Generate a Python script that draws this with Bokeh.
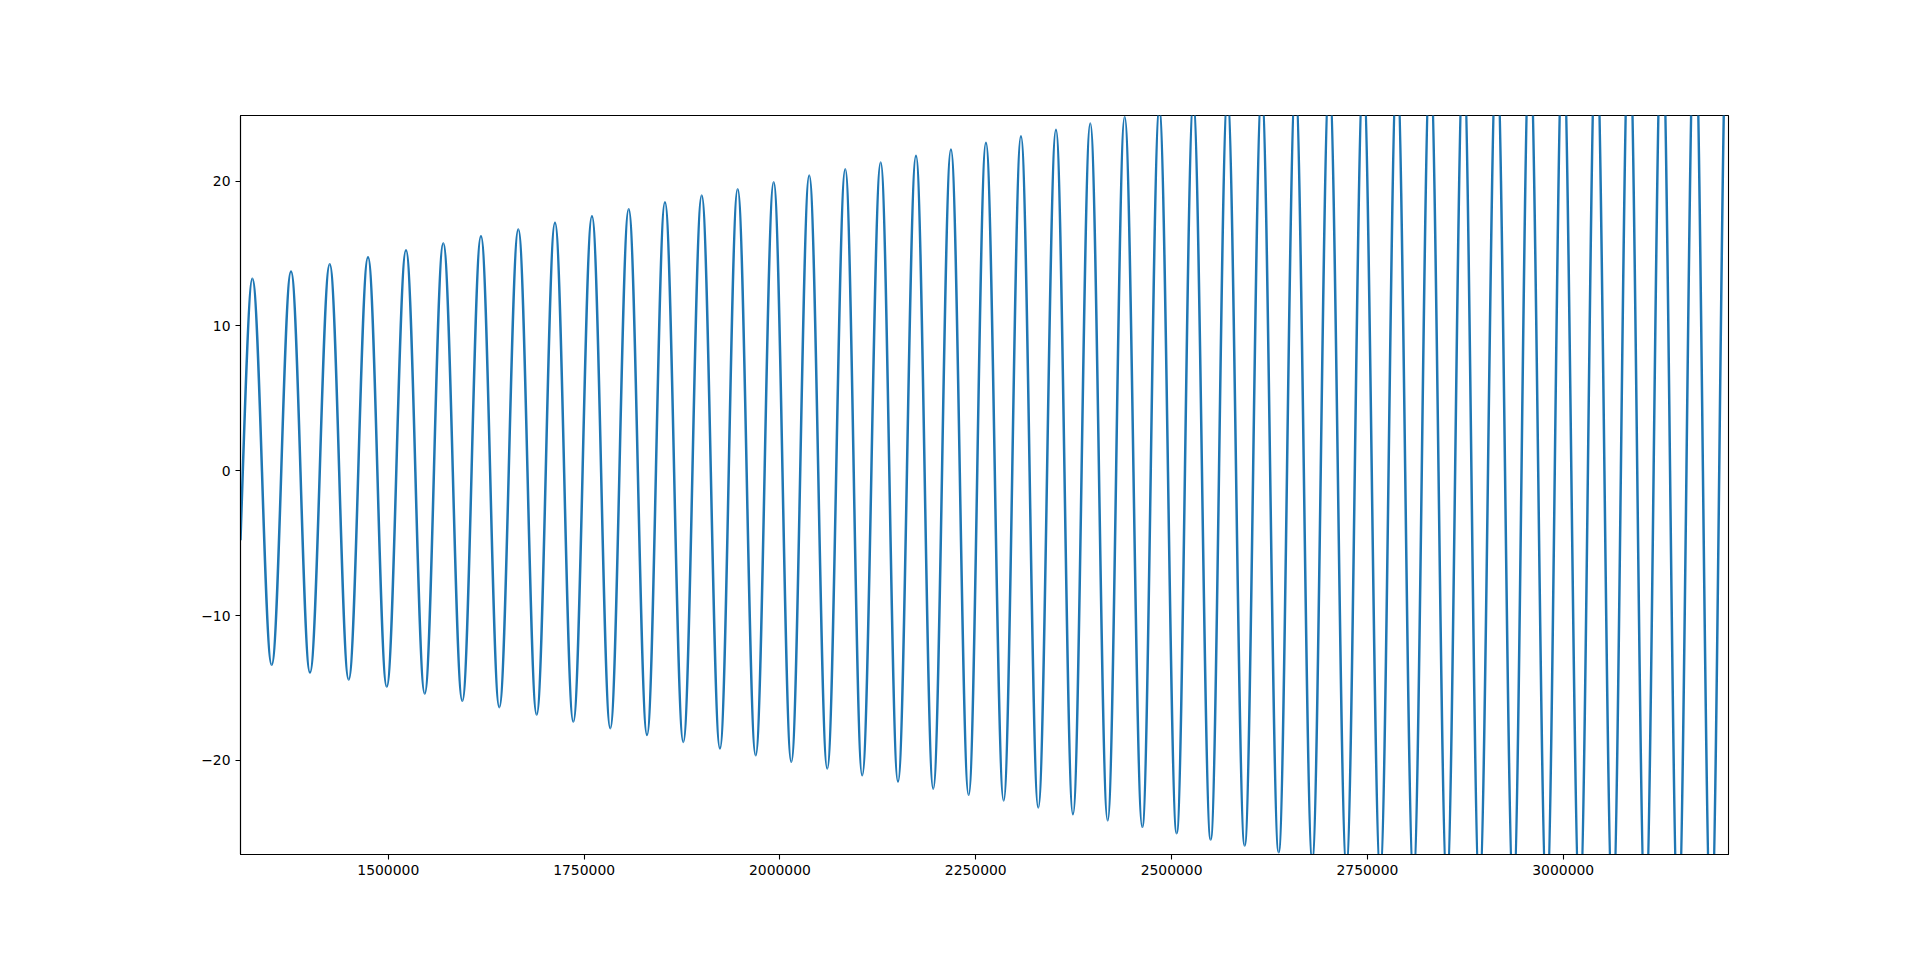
import numpy as np
from bokeh.plotting import figure
from bokeh.models import Range1d, FixedTicker
from bokeh.embed import file_html
from bokeh.resources import INLINE

# ---- data ----
start_x = [1311300]
start_y = [-4.8]

peak_x = [1326400, 1375800, 1425200, 1474100, 1522600, 1570200, 1618300, 1666000,
          1712800, 1760000, 1806900, 1853200, 1900100, 1946000, 1992000, 2037400,
          2083400, 2128600, 2173700, 2218300, 2263000, 2307700, 2352400, 2396200,
          2440100, 2484300, 2527700, 2571300, 2615000, 2658100, 2701300, 2744700,
          2787700, 2830100, 2872600, 2915000, 2957200, 2999600, 3042000, 3084100,
          3126000, 3167900, 3209600]
peak_y = [13.26, 13.76, 14.27, 14.75, 15.23, 15.72, 16.20, 16.66,
          17.13, 17.58, 18.07, 18.55, 19.01, 19.45, 19.93, 20.39,
          20.83, 21.29, 21.76, 22.19, 22.65, 23.11, 23.56, 23.99,
          24.44, 24.89, 25.33, 25.77, 26.20, 26.63, 27.06, 27.48,
          27.90, 28.32, 28.73, 29.14, 29.55, 29.95, 30.35, 30.75,
          31.14, 31.53, 31.92]

trough_x = [1351100, 1400000, 1449400, 1498000, 1546500, 1594500, 1641700, 1689400,
            1736200, 1783400, 1830300, 1876600, 1923400, 1969000, 2014500, 2060400,
            2105000, 2150700, 2195700, 2240900, 2285600, 2329800, 2374100, 2418400,
            2462600, 2506500, 2549900, 2593300, 2636700, 2679600, 2723200, 2766400,
            2808800, 2851500, 2893000, 2936400, 2978900, 3021100, 3063200, 3104900,
            3146800, 3188800]
trough_y = [-13.41, -13.94, -14.42, -14.91, -15.39, -15.89, -16.34, -16.84,
            -17.33, -17.79, -18.25, -18.73, -19.19, -19.65, -20.11, -20.57,
            -21.04, -21.47, -21.96, -22.39, -22.78, -23.27, -23.73, -24.15,
            -24.60, -25.04, -25.48, -25.89, -26.36, -26.80, -27.20, -27.60,
            -28.00, -28.40, -28.80, -29.20, -29.60, -30.00, -30.40, -30.80,
            -31.20, -31.60]

x_ticks = [1500000, 1750000, 2000000, 2250000, 2500000, 2750000, 3000000]
y_ticks = [-20, -10, 0, 10, 20]
x_range = (1311300, 3211000)
y_range = (-26.51, 24.54)

# ---- build ordered extrema (start, peak, trough, peak, ...) ----
ext_x = [start_x[0]]
ext_y = [start_y[0]]
for i in range(len(peak_x)):
    ext_x.append(peak_x[i]); ext_y.append(peak_y[i])
    if i < len(trough_x):
        ext_x.append(trough_x[i]); ext_y.append(trough_y[i])
ext_x = np.array(ext_x, dtype=float)
ext_y = np.array(ext_y, dtype=float)

x0 = ext_x[:-1]; x1 = ext_x[1:]
y0 = ext_y[:-1]; y1 = ext_y[1:]
dx = x1 - x0
k = 0.3634  # bezier factor approximating a half sine between extrema
cx0 = x0 + k * dx
cy0 = y0.copy()
cx1 = x1 - k * dx
cy1 = y1.copy()
# first segment starts mid-rise, not at an extremum
cx0[0] = x0[0] + dx[0] / 3.0
cy0[0] = y0[0] + 0.45 * (y1[0] - y0[0])
cx1[0] = x1[0] - 0.30 * dx[0]

p = figure(output_backend="svg", toolbar_location=None,
           frame_width=1488, frame_height=739,
           min_border_left=240, min_border_right=184,
           min_border_top=115, min_border_bottom=98,
           x_range=Range1d(*x_range), y_range=Range1d(*y_range),
           background_fill_color="white", border_fill_color="white")

p.bezier(x0=x0, y0=y0, x1=x1, y1=y1, cx0=cx0, cy0=cy0, cx1=cx1, cy1=cy1,
         line_color="#1f77b4", line_width=2.5)

p.grid.visible = False
p.outline_line_color = "black"
p.outline_line_width = 1.1

for ax in (p.xaxis[0], p.yaxis[0]):
    ax.axis_line_color = "black"
    ax.axis_line_width = 1.1
    ax.major_tick_line_color = "black"
    ax.major_tick_line_width = 1.1
    ax.major_tick_out = 5
    ax.major_tick_in = 0
    ax.minor_tick_line_color = None
    ax.major_label_text_font = "DejaVu Sans"
    ax.major_label_text_font_size = "13.9px"
    ax.major_label_text_color = "black"
    ax.major_label_standoff = 5

p.xaxis[0].ticker = FixedTicker(ticks=x_ticks)
p.xaxis[0].major_label_overrides = {t: str(t) for t in x_ticks}
p.yaxis[0].ticker = FixedTicker(ticks=y_ticks)
p.yaxis[0].major_label_overrides = {t: (str(t).replace("-", "\u2212")) for t in y_ticks}

open("out.html", "w").write(file_html(p, INLINE))
